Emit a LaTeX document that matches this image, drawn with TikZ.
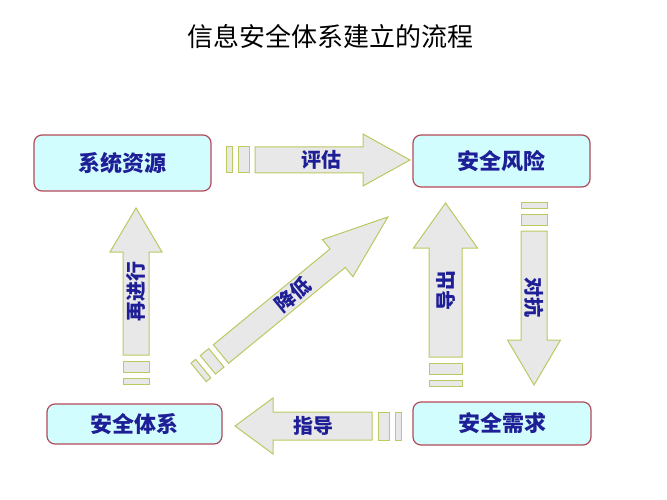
\documentclass[tikz,border=0pt]{standalone}
\usepackage{fontspec}
\usepackage{xcolor}
\usepackage{tikz}
\usetikzlibrary{calc}
\newfontfamily\cjk{Noto Sans CJK SC}
\definecolor{boxline}{HTML}{B24A58}
\definecolor{boxfill}{HTML}{D2FDFF}
\definecolor{boxtext}{HTML}{1E1E96}
\definecolor{arrowline}{HTML}{BCC860}
\definecolor{arrowfill}{HTML}{E8E8E8}
\tikzset{
  stage/.style={draw=boxline, line width=1.2pt, rounded corners=8pt, fill=boxfill, inner sep=0pt, text=boxtext, font=\cjk\bfseries\fontsize{22}{22}\selectfont},
  flowline/.style={draw=arrowline, line width=1pt, fill=arrowfill},
  flowlabel/.style={inner sep=0pt, text=boxtext, font=\cjk\bfseries\fontsize{20}{20}\selectfont}
}
% #1 name, #2 angle, #3 length, #4 head length, #5 shaft half width, #6 head half width
\newcommand{\flowarrow}[6]{%
  \begin{scope}[shift={(#1-tail)}, rotate=#2]
    \draw[flowline] (0,-#5) -- ({#3-#4},-#5) -- ({#3-#4},-#6) -- (#3,0) -- ({#3-#4},#6) -- ({#3-#4},#5) -- (0,#5) -- cycle;
    \draw[flowline] (-6,-#5) rectangle (-17,#5);
    \draw[flowline] (-23,-#5) rectangle (-29,#5);
    \coordinate (#1-tip) at (#3,0);
  \end{scope}
}

\begin{document}
\begin{tikzpicture}[x=1pt, y=-1pt]
  \useasboundingbox (0,0) rectangle (667,500);
  \node[font=\cjk\fontsize{26}{26}\selectfont] (title) at (330,37) {信息安全体系建立的流程};

  \node[stage, minimum width=177pt, minimum height=56pt] (resource) at (122.5,163) {系统资源};
  \node[stage, minimum width=177pt, minimum height=52pt] (risk) at (501.5,161) {安全风险};
  \node[stage, minimum width=175pt, minimum height=40pt] (system) at (134.5,424) {安全体系};
  \node[stage, minimum width=178pt, minimum height=43pt] (demand) at (502,423.5) {安全需求};

  \coordinate (assess-tail) at (255,160);
  \coordinate (counter-tail) at (534,231);
  \coordinate (derive-tail) at (445.5,357);
  \coordinate (redo-tail) at (136,355);
  \coordinate (guide-tail) at (372,426);
  \coordinate (reduce-tail) at (221,354);

  \flowarrow{assess}{0}{155}{47}{13}{26}
  \flowarrow{counter}{-90}{154}{45}{13}{26.5}
  \flowarrow{derive}{90}{154}{45}{16.5}{32}
  \flowarrow{redo}{90}{147}{44}{13}{26}
  \flowarrow{guide}{180}{137}{38}{14}{28}
  \flowarrow{reduce}{39.4}{216}{65}{12}{24}

  \node[flowlabel] (assess) at ($(assess-tail)!0.43!(assess-tip)$) {评估};
  \node[flowlabel, rotate=-90] (counter) at ($(counter-tail)!0.43!(counter-tip)$) {对抗};
  \node[flowlabel, rotate=90] (derive) at ($(derive-tail)!0.43!(derive-tip)$) {导出};
  \node[flowlabel, rotate=90] (redo) at ($(redo-tail)!0.43!(redo-tip)$) {再进行};
  \node[flowlabel] (guide) at ($(guide-tail)!0.43!(guide-tip)$) {指导};
  \node[flowlabel, rotate=39.4] (reduce) at ($(reduce-tail)!0.43!(reduce-tip)$) {降低};
\end{tikzpicture}
\end{document}
